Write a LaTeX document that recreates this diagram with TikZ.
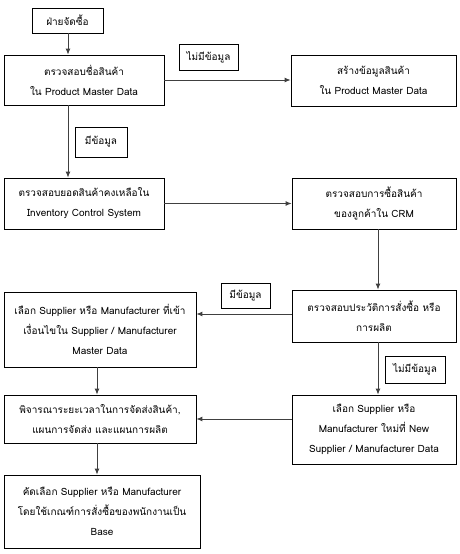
\documentclass[tikz,border=0pt]{standalone}
\usepackage{fontspec}
\setmainfont[Script=Thai]{Loma}
\usetikzlibrary{arrows.meta}
\begin{document}
\begin{tikzpicture}[x=1pt,y=-1pt,
  box/.style={draw, line width=0.8pt, align=center, font=\fontsize{10}{20}\selectfont, inner sep=0pt},
  lab/.style={draw, line width=0.8pt, align=center, font=\fontsize{10}{12}\selectfont, inner sep=0pt},
  arr/.style={draw=black!75, line width=0.9pt, -{Latex[length=6pt,width=5pt]}}]
\useasboundingbox (0,0) rectangle (460,554);
\node[box, minimum width=71pt, minimum height=25pt] (b0) at (67.5,20.5) {ฝ่ายจัดซื้อ};
\node[box, minimum width=160pt, minimum height=50pt] (b1) at (84,80) {ตรวจสอบชื่อสินค้า\\ใน Product Master Data};
\node[lab, minimum width=59pt, minimum height=26pt] (l1) at (208.5,57) {ไม่มีข้อมูล};
\node[box, minimum width=165pt, minimum height=51pt] (b2) at (373.5,80.5) {สร้างข้อมูลสินค้า\\ใน Product Master Data};
\node[lab, minimum width=52pt, minimum height=30pt] (l2) at (101,142) {มีข้อมูล};
\node[box, minimum width=160pt, minimum height=51pt] (b3) at (84,203.5) {ตรวจสอบยอดสินค้าคงเหลือใน\\Inventory Control System};
\node[box, minimum width=164pt, minimum height=51pt] (b4) at (374,203.5) {ตรวจสอบการซื้อสินค้า\\ของลูกค้าใน CRM};
\node[box, minimum width=164pt, minimum height=52pt] (b6) at (374,316) {ตรวจสอบประวัติการสั่งซื้อ หรือ\\การผลิต};
\node[box, minimum width=192pt, minimum height=75pt] (b5) at (100,329.5) {เลือก Supplier หรือ Manufacturer ที่เข้า\\เงื่อนไขใน Supplier / Manufacturer\\Master Data};
\node[lab, minimum width=49pt, minimum height=25pt] (l3) at (245.5,295.5) {มีข้อมูล};
\node[lab, minimum width=60pt, minimum height=27pt] (l4) at (415,369.5) {ไม่มีข้อมูล};
\node[box, minimum width=164pt, minimum height=69pt] (b7) at (374,429.5) {เลือก Supplier หรือ\\Manufacturer ใหม่ที่ New\\Supplier / Manufacturer Data};
\node[box, minimum width=192pt, minimum height=48pt] (b8) at (100,419) {พิจารณาระยะเวลาในการจัดส่งสินค้า,\\แผนการจัดส่ง และแผนการผลิต};
\node[box, minimum width=196pt, minimum height=73pt] (b9) at (102,511.5) {คัดเลือก Supplier หรือ Manufacturer\\โดยใช้เกณฑ์การสั่งซื้อของพนักงานเป็น\\Base};
\coordinate (c1) at (68,0);
\coordinate (c2) at (378,0);
\coordinate (c3) at (97,0);
\draw[arr] (b0.south -| c1) -- (b1.north -| c1);
\draw[arr] (b1.east) -- (b1.east -| b2.west);
\draw[arr] (b1.south -| c1) -- (b3.north -| c1);
\draw[arr] (b3.east) -- (b3.east -| b4.west);
\draw[arr] (b4.south -| c2) -- (b6.north -| c2);
\draw[arr] ([yshift=2pt]b6.west) -- ([yshift=2pt]b6.west -| b5.east);
\draw[arr] (b6.south -| c2) -- (b7.north -| c2);
\draw[arr] (b8.east -| b7.west) -- (b8.east);
\draw[arr] (b5.south -| c3) -- (b8.north -| c3);
\draw[arr] (b8.south -| c3) -- (b9.north -| c3);
\end{tikzpicture}
\end{document}
